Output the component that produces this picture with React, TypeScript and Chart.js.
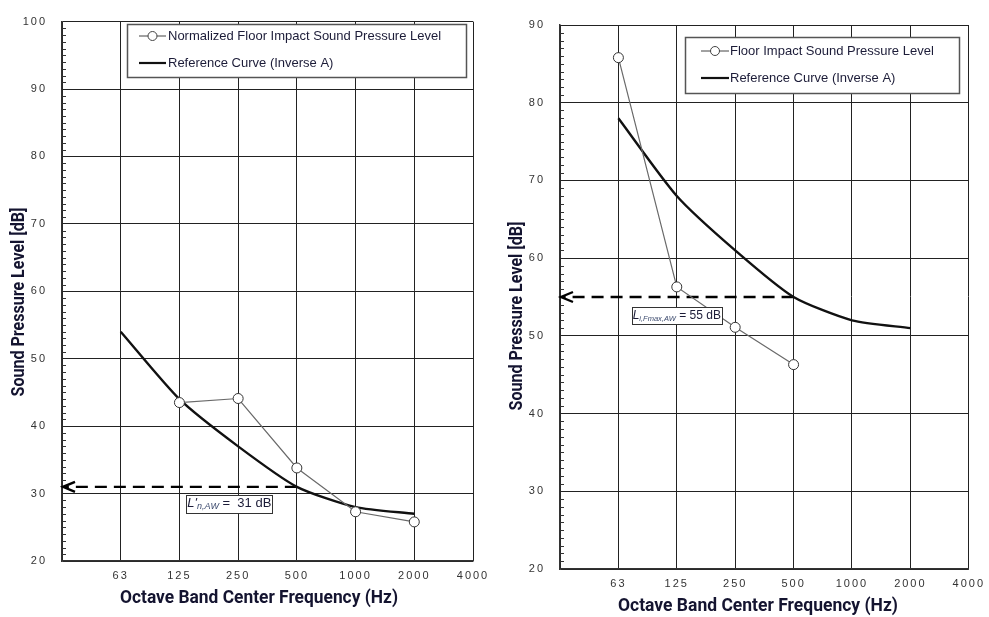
import React, { useEffect, useRef } from 'react';
import { Chart, registerables } from 'chart.js';

Chart.register(...registerables);

// ---------- data ----------
const FREQ_LABELS = ['', '63', '125', '250', '500', '1000', '2000', '4000'];

const LEFT_MEASURED: (number | null)[] = [null, null, 43.5, 44.1, 33.8, 27.3, 25.8, null];
const LEFT_REFERENCE: (number | null)[] = [null, 54, 44, 37, 31, 28, 27, null];
const LEFT_RATING = 31;

const RIGHT_MEASURED: (number | null)[] = [null, 85.8, 56.3, 51.1, 46.3, null, null, null];
const RIGHT_REFERENCE: (number | null)[] = [null, 78, 68, 61, 55, 52, 51, null];
const RIGHT_RATING = 55;

const RATING_INDEX = 4; // 500 Hz

const LEFT_LEGEND = ['Normalized Floor Impact Sound Pressure Level', 'Reference Curve (Inverse A)'];
const RIGHT_LEGEND = ['Floor Impact Sound Pressure Level', 'Reference Curve (Inverse A)'];

const X_TITLE = 'Octave Band Center Frequency (Hz)';
const Y_TITLE = 'Sound Pressure Level [dB]';

// ---------- styles ----------
const TEXT_DARK = '#1c1c38';
const TITLE_FONT = 'bold 18px "Liberation Sans Narrow", Roboto, "Liberation Sans", sans-serif';
const LEGEND_FONT = '13px "Liberation Sans", Arial, sans-serif';

type Part = { t: string; italic?: boolean; size: number; dy?: number; color?: string };

type Cfg = {
  width: number;
  height: number;
  area: { left: number; top: number; right: number; bottom: number };
  yMin: number;
  yMax: number;
  measured: (number | null)[];
  reference: (number | null)[];
  legendLabels: string[];
  rating: number;
  legend: { x: number; y: number; w: number; h: number; rows: number[]; symL: number; symR: number; textX: number };
  xTitle: { cx: number; cy: number; w: number };
  yTitle: { cx: number; cy: number; w: number };
  label: { xv: number; yv: number; w: number; h: number; parts: Part[] };
};

function fitText(ctx: CanvasRenderingContext2D, text: string, cx: number, cy: number, targetW: number, rot: number) {
  const w = ctx.measureText(text).width;
  ctx.save();
  ctx.translate(cx, cy);
  ctx.rotate(rot);
  ctx.scale(targetW / w, 1);
  ctx.textAlign = 'center';
  ctx.textBaseline = 'middle';
  ctx.fillText(text, 0, 0);
  ctx.restore();
}

function partFont(p: Part) {
  return `${p.italic ? 'italic ' : ''}${p.size}px "Liberation Sans", Arial, sans-serif`;
}

function makeConfig(cfg: Cfg): any {
  const decor = {
    id: 'decor',
    beforeDraw(chart: any) {
      chart.ctx.letterSpacing = '2px';
    },
    beforeDatasetsDraw(chart: any) {
      const ctx: CanvasRenderingContext2D = chart.ctx;
      const xs = chart.scales.x;
      const ys = chart.scales.y;
      ctx.save();
      ctx.letterSpacing = '0px';
      // minor ticks
      ctx.strokeStyle = '#333';
      ctx.lineWidth = 1;
      for (let v = cfg.yMin + 1; v < cfg.yMax; v++) {
        if (v % 10 === 0) continue;
        const py = Math.round(ys.getPixelForValue(v)) + 0.5;
        ctx.beginPath();
        ctx.moveTo(xs.left, py);
        ctx.lineTo(xs.left + 4, py);
        ctx.stroke();
      }
      // dashed rating arrow
      const ay = ys.getPixelForValue(cfg.rating);
      const ax0 = xs.getPixelForValue(RATING_INDEX);
      const tip = xs.left + 1;
      ctx.strokeStyle = '#000';
      ctx.lineWidth = 2.4;
      ctx.setLineDash([12, 7]);
      ctx.beginPath();
      ctx.moveTo(ax0, ay);
      ctx.lineTo(tip + 2, ay);
      ctx.stroke();
      ctx.setLineDash([]);
      ctx.beginPath();
      ctx.moveTo(tip + 12, ay - 5);
      ctx.lineTo(tip, ay);
      ctx.lineTo(tip + 12, ay + 5);
      ctx.stroke();
      ctx.restore();
    },
    afterDraw(chart: any) {
      const ctx: CanvasRenderingContext2D = chart.ctx;
      const xs = chart.scales.x;
      const ys = chart.scales.y;
      ctx.save();
      ctx.letterSpacing = '0px';

      // axis titles
      ctx.fillStyle = '#141430';
      ctx.font = TITLE_FONT;
      fitText(ctx, X_TITLE, cfg.xTitle.cx, cfg.xTitle.cy, cfg.xTitle.w, 0);
      fitText(ctx, Y_TITLE, cfg.yTitle.cx, cfg.yTitle.cy, cfg.yTitle.w, -Math.PI / 2);

      // legend
      const L = cfg.legend;
      ctx.fillStyle = '#fff';
      ctx.fillRect(L.x, L.y, L.w, L.h);
      ctx.strokeStyle = '#555';
      ctx.lineWidth = 1.5;
      ctx.strokeRect(L.x, L.y, L.w, L.h);
      // row 1: measured
      ctx.strokeStyle = '#444';
      ctx.lineWidth = 1;
      ctx.beginPath();
      ctx.moveTo(L.symL, L.rows[0]);
      ctx.lineTo(L.symR, L.rows[0]);
      ctx.stroke();
      ctx.beginPath();
      ctx.arc((L.symL + L.symR) / 2, L.rows[0], 4.5, 0, Math.PI * 2);
      ctx.fillStyle = '#fff';
      ctx.fill();
      ctx.stroke();
      // row 2: reference
      ctx.strokeStyle = '#111';
      ctx.lineWidth = 2.2;
      ctx.beginPath();
      ctx.moveTo(L.symL, L.rows[1]);
      ctx.lineTo(L.symR, L.rows[1]);
      ctx.stroke();
      ctx.fillStyle = TEXT_DARK;
      ctx.font = LEGEND_FONT;
      ctx.textAlign = 'left';
      ctx.textBaseline = 'middle';
      ctx.fillText(cfg.legendLabels[0], L.textX, L.rows[0]);
      ctx.fillText(cfg.legendLabels[1], L.textX, L.rows[1]);

      // rating label box
      const lb = cfg.label;
      const cx = xs.getPixelForValue(lb.xv);
      const cy = ys.getPixelForValue(lb.yv);
      const bx = Math.round(cx - lb.w / 2) + 0.5;
      const by = Math.round(cy - lb.h / 2) + 0.5;
      ctx.fillStyle = '#fff';
      ctx.fillRect(bx, by, lb.w, lb.h);
      ctx.strokeStyle = '#333';
      ctx.lineWidth = 1;
      ctx.strokeRect(bx, by, lb.w, lb.h);
      let total = 0;
      for (const p of lb.parts) {
        ctx.font = partFont(p);
        total += ctx.measureText(p.t).width;
      }
      let px = cx - total / 2;
      for (const p of lb.parts) {
        ctx.font = partFont(p);
        ctx.fillStyle = p.color || TEXT_DARK;
        ctx.textBaseline = 'middle';
        ctx.fillText(p.t, px, cy + (p.dy || 0));
        px += ctx.measureText(p.t).width;
      }

      ctx.restore();
      ctx.letterSpacing = '0px';
    },
  };

  const tickFont = { family: '"Liberation Sans", Arial, sans-serif', size: 11 };

  return {
    type: 'line',
    data: {
      labels: FREQ_LABELS,
      datasets: [
        {
          label: cfg.legendLabels[0],
          data: cfg.measured,
          borderColor: '#6a6a6a',
          borderWidth: 1.2,
          pointRadius: 5,
          pointBackgroundColor: '#fff',
          pointBorderColor: '#333',
          pointBorderWidth: 1,
          tension: 0,
          fill: false,
        },
        {
          label: cfg.legendLabels[1],
          data: cfg.reference,
          borderColor: '#111',
          borderWidth: 2.4,
          pointRadius: 0,
          tension: 0.22,
          fill: false,
        },
      ],
    },
    options: {
      animation: false,
      responsive: false,
      maintainAspectRatio: false,
      events: [],
      layout: { padding: { top: cfg.area.top, right: cfg.width - cfg.area.right, left: 0, bottom: 0 } },
      plugins: { legend: { display: false }, tooltip: { enabled: false }, title: { display: false } },
      scales: {
        x: {
          type: 'category',
          offset: false,
          grid: { color: '#222', lineWidth: 1, drawTicks: false },
          border: { color: '#333', width: 1.5 },
          ticks: { color: '#333', font: tickFont, padding: 8, maxRotation: 0, autoSkip: false },
          afterFit: (s: any) => {
            s.height = cfg.height - cfg.area.bottom;
          },
        },
        y: {
          min: cfg.yMin,
          max: cfg.yMax,
          grid: { color: '#222', lineWidth: 1, drawTicks: false },
          border: { color: '#333', width: 1.5 },
          ticks: { stepSize: 10, color: '#333', font: tickFont, padding: 15 },
          afterFit: (s: any) => {
            s.width = cfg.area.left;
          },
        },
      },
    },
    plugins: [decor],
  };
}

const LEFT_CFG: Cfg = {
  width: 495,
  height: 617,
  area: { left: 62, top: 17, right: 473, bottom: 561 },
  yMin: 20,
  yMax: 100,
  measured: LEFT_MEASURED,
  reference: LEFT_REFERENCE,
  legendLabels: LEFT_LEGEND,
  rating: LEFT_RATING,
  legend: { x: 127.5, y: 24.5, w: 339, h: 53, rows: [36, 63], symL: 139, symR: 166, textX: 168 },
  xTitle: { cx: 259, cy: 598, w: 278 },
  yTitle: { cx: 19.5, cy: 302, w: 189 },
  label: {
    xv: 2.85,
    yv: 28.5,
    w: 86,
    h: 18,
    parts: [
      { t: "L'", italic: true, size: 13 },
      { t: 'n,AW', italic: true, size: 9, dy: 3, color: '#3c4a6e' },
      { t: ' =  31 dB', size: 13 },
    ],
  },
};

const RIGHT_CFG: Cfg = {
  width: 494,
  height: 617,
  area: { left: 65, top: 25, right: 477, bottom: 569 },
  yMin: 20,
  yMax: 90,
  measured: RIGHT_MEASURED,
  reference: RIGHT_REFERENCE,
  legendLabels: RIGHT_LEGEND,
  rating: RIGHT_RATING,
  legend: { x: 190.5, y: 37.5, w: 274, h: 56, rows: [51, 78], symL: 206, symR: 234, textX: 235 },
  xTitle: { cx: 263, cy: 606, w: 280 },
  yTitle: { cx: 22, cy: 316, w: 189 },
  label: {
    xv: 2.0,
    yv: 52.6,
    w: 90,
    h: 17,
    parts: [
      { t: 'L', italic: true, size: 12 },
      { t: 'i,Fmax,AW', italic: true, size: 7.5, dy: 3, color: '#3c4a6e' },
      { t: ' = 55 dB', size: 12 },
    ],
  },
};

function ChartPanel({ cfg, left }: { cfg: Cfg; left: number }) {
  const ref = useRef<HTMLCanvasElement | null>(null);
  useEffect(() => {
    if (!ref.current) return;
    const chart = new Chart(ref.current, makeConfig(cfg));
    return () => chart.destroy();
  }, [cfg]);
  return (
    <canvas
      ref={ref}
      width={cfg.width}
      height={cfg.height}
      style={{ position: 'absolute', left, top: 0, width: cfg.width, height: cfg.height }}
    />
  );
}

export default function App() {
  return (
    <div style={{ position: 'fixed', left: 0, top: 0, width: 989, height: 617, background: '#fff' }}>
      <ChartPanel cfg={LEFT_CFG} left={0} />
      <ChartPanel cfg={RIGHT_CFG} left={495} />
    </div>
  );
}
